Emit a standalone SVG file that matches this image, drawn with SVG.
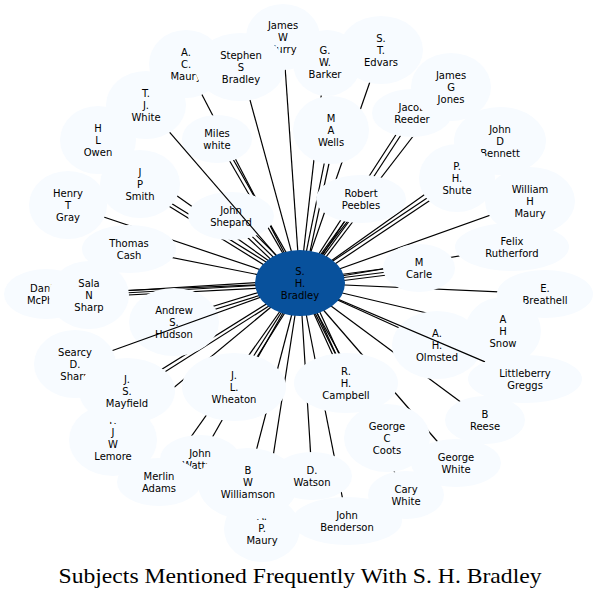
<svg xmlns="http://www.w3.org/2000/svg" width="600" height="598" viewBox="0 0 600 598">
<style>
.e{stroke:#000;stroke-width:1.2;fill:none}
.n ellipse{fill:#f7fbff;stroke:none}
.n text,.c text{font-family:"DejaVu Sans",Verdana,sans-serif;font-size:10px;text-anchor:middle;fill:#000}
.c ellipse{fill:#08519c;stroke:none}
.t{font-family:"Liberation Serif","Times New Roman",serif;font-size:21px;text-anchor:middle;fill:#000}
</style>
<rect width="600" height="598" fill="#fff"/>
<g id="edges">
<path class="e" d="M300,283L283,37"/>
<path class="e" d="M300,283L241,67"/>
<path class="e" d="M300,283L186,64"/>
<path class="e" d="M300,283L325,62"/>
<path class="e" d="M300,283L381,50"/>
<path class="e" d="M300,283L98,140"/>
<path class="e" d="M300,283L217,139"/><path class="e" d="M303,282L221,138"/>
<path class="e" d="M300,283L331,130"/><path class="e" d="M303,284L336,131"/>
<path class="e" d="M300,283L410,113"/><path class="e" d="M303,285L414,115"/>
<path class="e" d="M300,283L451,87"/>
<path class="e" d="M300,283L500,141"/>
<path class="e" d="M300,283L140,184"/><path class="e" d="M298,286L138,187"/>
<path class="e" d="M300,283L68,205"/>
<path class="e" d="M300,283L231,216"/><path class="e" d="M298,285L228,219"/><path class="e" d="M302,281L234,213"/>
<path class="e" d="M300,283L361,199"/><path class="e" d="M302,285L364,201"/><path class="e" d="M304,286L367,203"/>
<path class="e" d="M300,283L457,178"/><path class="e" d="M302,286L459,181"/>
<path class="e" d="M300,283L530,201"/>
<path class="e" d="M300,283L129,249"/>
<path class="e" d="M300,283L512,247"/>
<path class="e" d="M300,283L419,268"/><path class="e" d="M300,286L419,271"/><path class="e" d="M300,280L419,264"/>
<path class="e" d="M300,283L45,294"/>
<path class="e" d="M300,283L89,295"/><path class="e" d="M300,286L89,297"/><path class="e" d="M300,280L89,293"/>
<path class="e" d="M300,283L545,294"/>
<path class="e" d="M300,283L174,322"/><path class="e" d="M299,280L172,319"/>
<path class="e" d="M300,283L437,345"/>
<path class="e" d="M300,283L503,331"/>
<path class="e" d="M300,283L127,391"/><path class="e" d="M302,285L130,394"/>
<path class="e" d="M300,283L234,387"/><path class="e" d="M303,284L237,389"/>
<path class="e" d="M300,283L346,384"/><path class="e" d="M303,282L349,383"/><path class="e" d="M306,282L352,382"/>
<path class="e" d="M300,283L485,420"/>
<path class="e" d="M300,283L387,438"/>
<path class="e" d="M300,283L113,438"/>
<path class="e" d="M300,283L200,459"/>
<path class="e" d="M300,283L159,482"/>
<path class="e" d="M300,283L248,482"/>
<path class="e" d="M300,283L312,476"/>
<path class="e" d="M300,283L456,463"/>
<path class="e" d="M300,283L406,495"/>
<path class="e" d="M300,283L347,521"/>
<path class="e" d="M300,283L262,528"/>
</g>
<g id="n_daniel" class="n"><ellipse cx="46" cy="294" rx="42" ry="25"/><text><tspan x="46" y="291.5">Daniel</tspan><tspan x="46" y="303.5">McPhail</tspan></text></g>
<g id="n_henrygray" class="n"><ellipse cx="68" cy="205" rx="39" ry="34"/><text><tspan x="68" y="196.5">Henry</tspan><tspan x="68" y="208.5">T</tspan><tspan x="68" y="220.5">Gray</tspan></text></g>
<g id="n_searcy" class="n"><ellipse cx="75" cy="364" rx="41" ry="34"/><text><tspan x="75" y="355.5">Searcy</tspan><tspan x="75" y="367.5">D.</tspan><tspan x="75" y="379.5">Sharp</tspan></text></g>
<g id="n_owen" class="n"><ellipse cx="98" cy="140" rx="38" ry="34"/><text><tspan x="98" y="131.5">H</tspan><tspan x="98" y="143.5">L</tspan><tspan x="98" y="155.5">Owen</tspan></text></g>
<g id="n_jamescurry" class="n"><ellipse cx="283" cy="37" rx="37" ry="33"/><text><tspan x="283" y="28.5">James</tspan><tspan x="283" y="40.5">W</tspan><tspan x="283" y="52.5">Curry</tspan></text></g>
<g id="n_acmaury" class="n"><ellipse cx="186" cy="64" rx="37" ry="34"/><text><tspan x="186" y="55.5">A.</tspan><tspan x="186" y="67.5">C.</tspan><tspan x="186" y="79.5">Maury</tspan></text></g>
<g id="n_stephen" class="n"><ellipse cx="240" cy="67" rx="45" ry="34"/><text><tspan x="241" y="58.5">Stephen</tspan><tspan x="241" y="70.5">S</tspan><tspan x="241" y="82.5">Bradley</tspan></text></g>
<g id="n_barker" class="n"><ellipse cx="327" cy="63" rx="34" ry="33"/><text><tspan x="325" y="53.5">G.</tspan><tspan x="325" y="65.5">W.</tspan><tspan x="325" y="77.5">Barker</tspan></text></g>
<g id="n_edvars" class="n"><ellipse cx="381" cy="50" rx="42" ry="34"/><text><tspan x="381" y="41.5">S.</tspan><tspan x="381" y="53.5">T.</tspan><tspan x="381" y="65.5">Edvars</tspan></text></g>
<g id="n_tjwhite" class="n"><ellipse cx="146" cy="105" rx="40" ry="34"/><text><tspan x="146" y="96.5">T.</tspan><tspan x="146" y="108.5">J.</tspan><tspan x="146" y="120.5">White</tspan></text></g>
<g id="n_jacob" class="n"><ellipse cx="412" cy="113" rx="40" ry="24"/><text><tspan x="412" y="110.5">Jacob</tspan><tspan x="412" y="122.5">Reeder</tspan></text></g>
<g id="n_wells" class="n"><ellipse cx="331" cy="130" rx="38" ry="34"/><text><tspan x="331" y="121.5">M</tspan><tspan x="331" y="133.5">A</tspan><tspan x="331" y="145.5">Wells</tspan></text></g>
<g id="n_jgjones" class="n"><ellipse cx="451" cy="87" rx="40" ry="34"/><text><tspan x="451" y="78.5">James</tspan><tspan x="451" y="90.5">G</tspan><tspan x="451" y="102.5">Jones</tspan></text></g>
<g id="n_miles" class="n"><ellipse cx="217" cy="139" rx="35" ry="24"/><text><tspan x="217" y="136.5">Miles</tspan><tspan x="217" y="148.5">white</tspan></text></g>
<g id="n_bennett" class="n"><ellipse cx="500" cy="141" rx="46" ry="34"/><text><tspan x="500" y="132.5">John</tspan><tspan x="500" y="144.5">D</tspan><tspan x="500" y="156.5">Bennett</tspan></text></g>
<g id="n_jpsmith" class="n"><ellipse cx="140" cy="184" rx="40" ry="34"/><text><tspan x="140" y="175.5">J</tspan><tspan x="140" y="187.5">P</tspan><tspan x="140" y="199.5">Smith</tspan></text></g>
<g id="n_shute" class="n"><ellipse cx="457" cy="178" rx="38" ry="34"/><text><tspan x="457" y="169.5">P.</tspan><tspan x="457" y="181.5">H.</tspan><tspan x="457" y="193.5">Shute</tspan></text></g>
<g id="n_wmaury" class="n"><ellipse cx="530" cy="201" rx="45" ry="34"/><text><tspan x="530" y="192.5">William</tspan><tspan x="530" y="204.5">H</tspan><tspan x="530" y="216.5">Maury</tspan></text></g>
<g id="n_shepard" class="n"><ellipse cx="231" cy="216" rx="43" ry="24"/><text><tspan x="231" y="213.5">John</tspan><tspan x="231" y="225.5">Shepard</tspan></text></g>
<g id="edge_tjwhite"><path class="e" d="M300,283L169.7,132.4"/></g>
<g id="n_peebles" class="n"><ellipse cx="361" cy="199" rx="45" ry="24"/><text><tspan x="361" y="196.5">Robert</tspan><tspan x="361" y="208.5">Peebles</tspan></text></g>
<g id="n_cash" class="n"><ellipse cx="129" cy="249" rx="47" ry="24"/><text><tspan x="129" y="246.5">Thomas</tspan><tspan x="129" y="258.5">Cash</tspan></text></g>
<g id="n_felix" class="n"><ellipse cx="512" cy="247" rx="57" ry="24"/><text><tspan x="512" y="244.5">Felix</tspan><tspan x="512" y="256.5">Rutherford</tspan></text></g>
<g id="n_carle" class="n"><ellipse cx="419" cy="268" rx="36" ry="24"/><text><tspan x="419" y="265.5">M</tspan><tspan x="419" y="277.5">Carle</tspan></text></g>
<g id="n_sala" class="n"><ellipse cx="89" cy="295" rx="40" ry="34"/><text><tspan x="89" y="286.5">Sala</tspan><tspan x="89" y="298.5">N</tspan><tspan x="89" y="310.5">Sharp</tspan></text></g>
<g id="n_breathell" class="n"><ellipse cx="545" cy="294" rx="48" ry="24"/><text><tspan x="545" y="291.5">E.</tspan><tspan x="545" y="303.5">Breathell</tspan></text></g>
<g id="n_hudson" class="n"><ellipse cx="174" cy="322" rx="45" ry="34"/><text><tspan x="174" y="313.5">Andrew</tspan><tspan x="174" y="325.5">S.</tspan><tspan x="174" y="337.5">Hudson</tspan></text></g>
<g id="edge_searcy"><path class="e" d="M300,283L112.6,350.5"/></g>
<g id="n_snow" class="n"><ellipse cx="503" cy="331" rx="38" ry="34"/><text><tspan x="503" y="322.5">A</tspan><tspan x="503" y="334.5">H</tspan><tspan x="503" y="346.5">Snow</tspan></text></g>
<g id="n_olmsted" class="n"><ellipse cx="437" cy="345" rx="45" ry="34"/><text><tspan x="437" y="336.5">A.</tspan><tspan x="437" y="348.5">H.</tspan><tspan x="437" y="360.5">Olmsted</tspan></text></g>
<g id="edge_greggs"><path class="e" d="M300,283L485,361.9"/></g>
<g id="n_lemore" class="n"><ellipse cx="113" cy="440" rx="44" ry="36"/><text><tspan x="113" y="423.5">F.</tspan><tspan x="113" y="435.5">J</tspan><tspan x="113" y="447.5">W</tspan><tspan x="113" y="459.5">Lemore</tspan></text></g>
<g id="n_mayfield" class="n"><ellipse cx="127" cy="391" rx="48" ry="33"/><text><tspan x="127" y="382.5">J.</tspan><tspan x="127" y="394.5">S.</tspan><tspan x="127" y="406.5">Mayfield</tspan></text></g>
<g id="n_wheaton" class="n"><ellipse cx="234" cy="387" rx="52" ry="34"/><text><tspan x="234" y="378.5">J.</tspan><tspan x="234" y="390.5">L.</tspan><tspan x="234" y="402.5">Wheaton</tspan></text></g>
<g id="n_greggs" class="n"><ellipse cx="525" cy="379" rx="57" ry="24"/><text><tspan x="525" y="376.5">Littleberry</tspan><tspan x="525" y="388.5">Greggs</tspan></text></g>
<g id="n_coots" class="n"><ellipse cx="387" cy="438" rx="43" ry="34"/><text><tspan x="387" y="429.5">George</tspan><tspan x="387" y="441.5">C</tspan><tspan x="387" y="453.5">Coots</tspan></text></g>
<g id="n_campbell" class="n"><ellipse cx="346" cy="383" rx="52" ry="30"/><text><tspan x="346" y="374.5">R.</tspan><tspan x="346" y="386.5">H.</tspan><tspan x="346" y="398.5">Campbell</tspan></text></g>
<g id="n_reese" class="n"><ellipse cx="485" cy="420" rx="40" ry="24"/><text><tspan x="485" y="417.5">B</tspan><tspan x="485" y="429.5">Reese</tspan></text></g>
<g id="n_wattan" class="n"><ellipse cx="200" cy="459" rx="40" ry="24"/><text><tspan x="200" y="456.5">John</tspan><tspan x="200" y="468.5">Wattan</tspan></text></g>
<g id="n_merlin" class="n"><ellipse cx="159" cy="482" rx="42" ry="24"/><text><tspan x="159" y="479.5">Merlin</tspan><tspan x="159" y="491.5">Adams</tspan></text></g>
<g id="n_apmaury" class="n"><ellipse cx="262" cy="529" rx="38" ry="33"/><text><tspan x="262" y="519.5">A.</tspan><tspan x="262" y="531.5">P.</tspan><tspan x="262" y="543.5">Maury</tspan></text></g>
<g id="n_williamson" class="n"><ellipse cx="248" cy="484" rx="50" ry="36"/><text><tspan x="248" y="473.5">B</tspan><tspan x="248" y="485.5">W</tspan><tspan x="248" y="497.5">Williamson</tspan></text></g>
<g id="n_watson" class="n"><ellipse cx="312" cy="476" rx="40" ry="24"/><text><tspan x="312" y="473.5">D.</tspan><tspan x="312" y="485.5">Watson</tspan></text></g>
<g id="n_gwhite" class="n"><ellipse cx="456" cy="463" rx="45" ry="24"/><text><tspan x="456" y="460.5">George</tspan><tspan x="456" y="472.5">White</tspan></text></g>
<g id="n_cary" class="n"><ellipse cx="406" cy="495" rx="38" ry="24"/><text><tspan x="406" y="492.5">Cary</tspan><tspan x="406" y="504.5">White</tspan></text></g>
<g id="n_benderson" class="n"><ellipse cx="347" cy="521" rx="55" ry="24"/><text><tspan x="347" y="518.5">John</tspan><tspan x="347" y="530.5">Benderson</tspan></text></g>
<g id="n_center" class="c"><ellipse cx="300" cy="283" rx="45" ry="33"/><text><tspan x="300" y="274.5">S.</tspan><tspan x="300" y="286.5">H.</tspan><tspan x="300" y="298.5">Bradley</tspan></text></g>
<text class="t" x="300" y="583" textLength="483" lengthAdjust="spacingAndGlyphs">Subjects Mentioned Frequently With S. H. Bradley</text>
</svg>
